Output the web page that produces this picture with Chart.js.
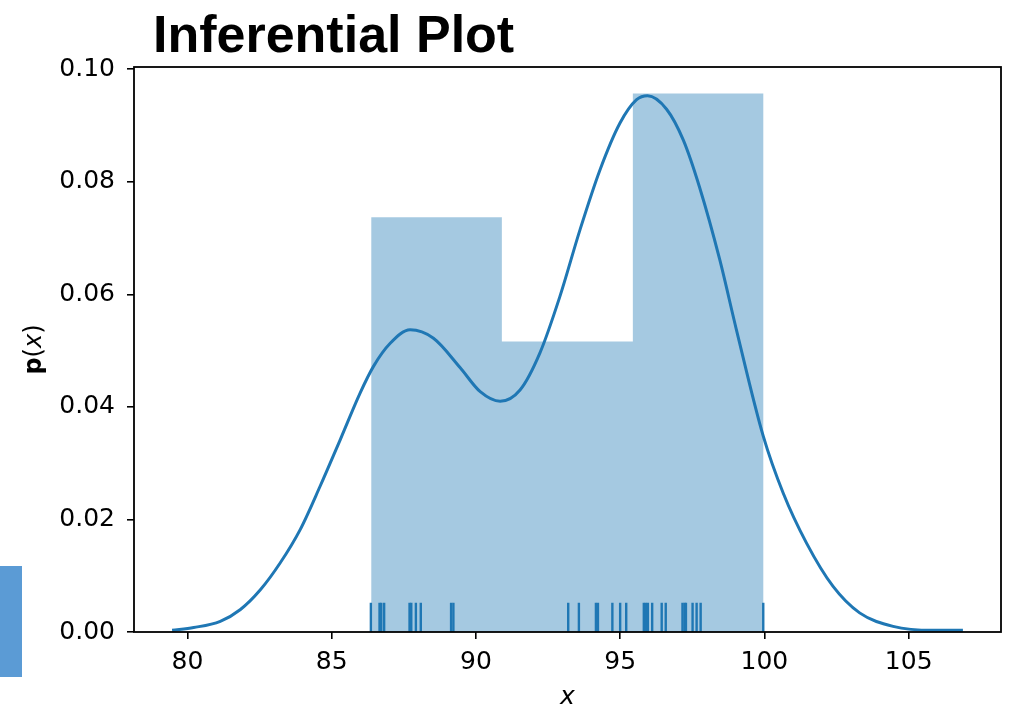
<!DOCTYPE html>
<html>
<head>
<meta charset="utf-8">
<script src="https://cdn.jsdelivr.net/npm/chart.js@4/dist/chart.umd.min.js"></script>
<style>
  html, body { margin: 0; padding: 0; background: #fff; }
  #wrap { position: relative; width: 1012px; height: 710px; }
  #sideBar { position: absolute; left: 0; top: 566px; width: 22px; height: 111px; background: #5b9bd5; }
</style>
</head>
<body>
<div id="wrap">
  <canvas id="infChart" width="1012" height="710"></canvas>
  <div id="sideBar"></div>
</div>
<script>
// histogram (density per bin)
var binEdges = [86.37, 90.90, 95.44, 99.97];
var binDensity = [0.0737, 0.0516, 0.0957];

// kde curve
var kdeX = [79.47, 80.22, 81.14, 81.84, 82.53, 83.22, 83.91, 84.60, 85.30, 85.99,
            86.45, 87.03, 87.72, 88.53, 89.45, 90.15, 90.84, 91.53, 92.22, 92.91,
            93.61, 94.30, 94.99, 95.57, 95.95, 96.61, 97.19, 97.76, 98.45, 99.03,
            99.96, 100.65, 101.46, 102.38, 103.30, 104.46, 105.84, 106.88];
var kdeY = [0.0003, 0.0008, 0.0019, 0.0040, 0.0075, 0.0123, 0.0182, 0.0259, 0.0342, 0.0425,
            0.0472, 0.0513, 0.0537, 0.0522, 0.0470, 0.0427, 0.0410, 0.0430, 0.0496, 0.0596,
            0.0715, 0.0821, 0.0904, 0.0946, 0.0953, 0.0929, 0.0874, 0.0789, 0.0662, 0.0537,
            0.0348, 0.0247, 0.0158, 0.0081, 0.0034, 0.0010, 0.0003, 0.0003];

// rug (observations)
var rugX = [86.36, 86.66, 86.72, 86.82, 87.70, 87.76, 87.92, 88.09, 89.14, 89.22,
            93.20, 93.57, 94.16, 94.23, 94.73, 95.00, 95.21,
            95.82, 95.89, 95.96, 96.11, 96.44, 96.58, 97.16, 97.23, 97.28, 97.51, 97.65, 97.79, 99.96];

var xTicks = [80, 85, 90, 95, 100, 105];
var yTicks = [0, 0.02, 0.04, 0.06, 0.08, 0.10];

var blue = "#1f77b4";
var RUG_MID = 0.00262;

Chart.defaults.font.family = "'DejaVu Sans', sans-serif";
Chart.defaults.font.size = 25;
Chart.defaults.color = "#000";

var histPts = binEdges.map(function (e, i) {
    return { x: e, y: i < binDensity.length ? binDensity[i] : binDensity[binDensity.length - 1] };
});
var kdePts = kdeX.map(function (x, i) { return { x: x, y: kdeY[i] }; });
var rugPts = rugX.map(function (x) { return { x: x, y: RUG_MID }; });

// title, axis labels and the box frame
var decorations = {
    id: "decorations",
    afterDraw: function (chart) {
        var ctx = chart.ctx, a = chart.chartArea;
        ctx.save();
        ctx.strokeStyle = "#000";
        ctx.lineWidth = 1.8;
        ctx.strokeRect(a.left, a.top, a.right - a.left, a.bottom - a.top);

        ctx.fillStyle = "#000";
        ctx.textBaseline = "alphabetic";
        ctx.textAlign = "left";
        ctx.font = "bold 52px 'Liberation Sans', Arial, sans-serif";
        ctx.fillText("Inferential Plot", a.left + 19, 52);

        ctx.textAlign = "center";
        ctx.font = "italic 25px 'DejaVu Sans', sans-serif";
        ctx.fillText("x", (a.left + a.right) / 2, 704);

        // y label: bold p, (, italic x, )
        var parts = [
            ["p", "bold 24px 'DejaVu Sans', sans-serif"],
            ["(", "24px 'DejaVu Sans', sans-serif"],
            ["x", "italic 24px 'DejaVu Sans', sans-serif"],
            [")", "24px 'DejaVu Sans', sans-serif"]
        ];
        var total = 0;
        parts.forEach(function (p) { ctx.font = p[1]; p.push(ctx.measureText(p[0]).width); total += p[2]; });
        ctx.translate(41, (a.top + a.bottom) / 2);
        ctx.rotate(-Math.PI / 2);
        ctx.textAlign = "left";
        var cx = -total / 2;
        parts.forEach(function (p) { ctx.font = p[1]; ctx.fillText(p[0], cx, 0); cx += p[2]; });
        ctx.restore();
    }
};

var ctx = document.getElementById("infChart").getContext("2d");
var infChart = new Chart(ctx, {
    type: "scatter",
    data: {
        datasets: [
            {
                label: "hist",
                type: "line",
                data: histPts,
                stepped: "before",
                fill: "origin",
                backgroundColor: "rgba(31,119,180,0.4)",
                borderWidth: 0,
                pointRadius: 0,
                order: 3
            },
            {
                label: "kde",
                type: "line",
                data: kdePts,
                borderColor: blue,
                borderWidth: 3,
                cubicInterpolationMode: "monotone",
                pointRadius: 0,
                fill: false,
                order: 2
            },
            {
                label: "rug",
                data: rugPts,
                pointStyle: "line",
                rotation: 90,
                radius: 14.5,
                borderColor: blue,
                borderWidth: 2.4,
                order: 1
            }
        ]
    },
    options: {
        responsive: false,
        animation: false,
        layout: { autoPadding: false, padding: { left: 0, right: 11, top: 67, bottom: 0 } },
        plugins: {
            legend: { display: false },
            tooltip: { enabled: false }
        },
        scales: {
            x: {
                type: "linear",
                min: 78.15,
                max: 108.2,
                afterBuildTicks: function (s) { s.ticks = xTicks.map(function (v) { return { value: v }; }); },
                afterFit: function (s) { s.height = 78; },
                border: { display: false },
                grid: { drawOnChartArea: false, color: "#000", lineWidth: 1.6, tickLength: 7 },
                ticks: { padding: 8, maxRotation: 0, callback: function (v) { return String(v); } }
            },
            y: {
                type: "linear",
                min: 0,
                max: 0.1004,
                afterBuildTicks: function (s) { s.ticks = yTicks.map(function (v) { return { value: v }; }); },
                afterFit: function (s) { s.width = 134; },
                border: { display: false },
                grid: { drawOnChartArea: false, color: "#000", lineWidth: 1.6, tickLength: 7 },
                ticks: { padding: 12, callback: function (v) { return Number(v).toFixed(2); } }
            }
        }
    },
    plugins: [decorations]
});
</script>
</body>
</html>
